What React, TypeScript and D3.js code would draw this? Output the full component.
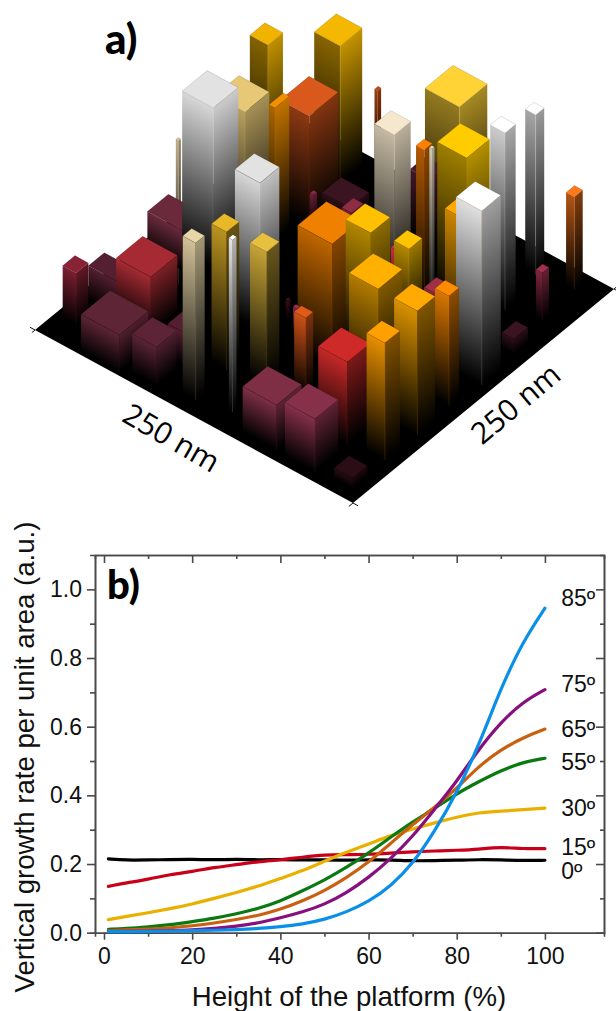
import React, { useEffect, useRef } from "react";
import * as d3 from "d3";

// ---- panel a) : bars on the 250 x 250 nm platform, listed back to front ----
// [u, v, size along u, size along v, height], all in nm
const barSizes: number[][] = [
  [223.5, 190.8, 14.2, 14.4, 140], [190.5, 219.8, 20.4, 21.1, 137], [177.5, 239.8, 2.4, 3.4, 84],
  [195.7, 135, 23.8, 23.3, 140], [180.9, 178.5, 23, 27.8, 109], [188.5, 154.9, 4.7, 13.7, 132],
  [208.2, 86.4, 2, 2.4, 144], [212.5, 98, 29.6, 20.1, 40], [201.5, 111.6, 24.4, 24, 160],
  [95.6, 218.3, 27, 26.8, 143], [112.3, 210.6, 15.7, 14.4, 65], [100.4, 161.9, 15.7, 15.7, 160],
  [83.3, 169.8, 6.5, 7.7, 150], [73.9, 165.7, 2.1, 2.4, 161], [57.5, 178.9, 23.1, 22, 152],
  [39.4, 193.6, 11.6, 10.2, 177], [45.1, 229.9, 8.2, 8.2, 160], [18.2, 234.2, 6.5, 8, 93],
  [27.1, 145.1, 19.7, 24, 138], [7.2, 132.1, 20.2, 18.2, 174], [16, 200.8, 5, 6.4, 47],
  [9.8, 166.1, 9.4, 13.4, 15], [178.9, 180.1, 2.8, 3.4, 30], [162.8, 195.5, 22, 18.2, 15],
  [152.2, 184.2, 7.9, 11.1, 27], [136.2, 103.7, 2, 2.5, 19], [86.5, 85.5, 27.2, 27.5, 126],
  [120.5, 93.1, 3.1, 2.9, 31], [84.5, 57.8, 9.2, 7, 77], [74, 107.2, 19.7, 18.5, 127],
  [79.2, 146.3, 11, 12.5, 68], [73.2, 142.9, 11.8, 12.5, 81], [47.4, 82, 23, 23, 111],
  [62.4, 157.5, 11, 11.8, 30], [8.8, 72.4, 18.3, 17, 124], [11.1, 105.5, 11, 9.6, 109],
  [217.3, 41.6, 24.9, 15.3, 34], [233.5, 19.2, 10.5, 11.8, 52], [192.4, 40.7, 27.3, 25.5, 58],
  [158.9, 32.7, 13.6, 14.4, 32], [185.9, 2.7, 30.1, 27.8, 37], [160.8, 7.9, 19.2, 19.2, 38],
  [143.7, 86, 19.7, 18.5, 147], [136.4, 45.1, 11.8, 12.1, 138], [109.4, 17.9, 2.9, 3.8, 172],
  [133.7, 12.2, 10.2, 8.6, 157], [108.8, 49.9, 13.1, 12.1, 133], [36.1, 38.5, 22.8, 22, 83],
  [9.7, 42.4, 14.4, 14.4, 117], [66.6, 8, 26.7, 23.9, 45], [35.9, 7.3, 23.6, 22.3, 53],
  [8.9, 10.2, 14.4, 14.4, 10],
];

const barColors = [
  "#f0b400", "#f5b800", "#c04a10", "#e6c877", "#d9581b", "#f29000",
  "#d8c49c", "#6a2a3c", "#e2e2e2", "#ffd335", "#4a1a2a", "#f6e8cc",
  "#ff8000", "#e8e0c8", "#ffcc00", "#ffffff", "#ffffff", "#ff7a1a",
  "#ffa800", "#ffffff", "#a03050", "#3a1420", "#8a2a48", "#3a1420",
  "#8c2c45", "#40101a", "#f08000", "#a03050", "#e05a18", "#ffc000",
  "#e03040", "#ffc400", "#ffb000", "#a03048", "#ffaa00", "#ff8c00",
  "#541f30", "#8a2236", "#a52a33", "#541f30", "#5e2536", "#5c2436",
  "#e2e2e2", "#e8b828", "#ffffff", "#e8d6a8", "#e8c040", "#cf2a2a",
  "#ff9f00", "#7e2f45", "#86304a", "#2a0d15",
];

// brightness of the left and right side of every bar, relative to its top
const leftShades = [
  0.55, 0.55, 0.8, 0.8, 0.65, 0.7, 0.9, 1, 0.95, 0.58, 0.9, 0.8,
  0.7, 0.9, 0.62, 0.8, 0.65, 0.7, 0.8, 0.88, 0.8, 0.8, 0.8, 0.8,
  0.8, 0.8, 0.8, 0.8, 0.9, 0.7, 0.9, 0.7, 0.7, 0.9, 0.85, 0.85,
  1, 0.9, 1, 1, 1, 1, 0.95, 0.8, 0.9, 0.9, 0.85, 0.95,
  0.9, 1, 1, 0.9,
];
const rightShades = [
  0.8, 0.8, 0.7, 0.72, 0.6, 0.8, 0.7, 0.8, 0.9, 0.65, 0.8, 0.75,
  0.55, 0.7, 0.7, 0.65, 0.6, 0.5, 0.6, 0.62, 0.65, 0.7, 0.7, 0.7,
  0.7, 0.7, 0.55, 0.7, 0.55, 0.55, 0.7, 0.6, 0.5, 0.7, 0.5, 0.55,
  0.8, 0.7, 0.75, 0.8, 0.85, 0.85, 0.85, 0.45, 0.7, 0.7, 0.45, 0.6,
  0.5, 0.75, 0.7, 0.7,
];

// ---- panel b) : growth rate curves ----
const heights = [1, 5, 10, 15, 20, 25, 30, 35, 40, 45, 50, 55, 60, 65, 70, 75, 80, 85, 90, 95, 100];

const rate0 = [0.215, 0.211, 0.212, 0.213, 0.214, 0.212, 0.214, 0.212, 0.213, 0.212, 0.212, 0.211, 0.212, 0.212, 0.209, 0.21, 0.211, 0.213, 0.212, 0.21, 0.211];
const rate15 = [0.135, 0.145, 0.155, 0.17, 0.178, 0.19, 0.198, 0.207, 0.212, 0.22, 0.227, 0.227, 0.228, 0.232, 0.236, 0.238, 0.24, 0.243, 0.25, 0.244, 0.245];
const rate30 = [0.038, 0.047, 0.058, 0.07, 0.083, 0.1, 0.117, 0.135, 0.158, 0.18, 0.208, 0.235, 0.258, 0.283, 0.302, 0.32, 0.337, 0.35, 0.354, 0.358, 0.363];
const rate55 = [0.01, 0.012, 0.017, 0.023, 0.032, 0.042, 0.055, 0.07, 0.092, 0.122, 0.153, 0.19, 0.232, 0.278, 0.323, 0.362, 0.405, 0.44, 0.472, 0.497, 0.508];
const rate65 = [0.006, 0.008, 0.01, 0.014, 0.02, 0.028, 0.038, 0.05, 0.068, 0.092, 0.122, 0.16, 0.205, 0.26, 0.315, 0.365, 0.42, 0.485, 0.533, 0.568, 0.593];
const rate75 = [0.004, 0.004, 0.005, 0.006, 0.008, 0.012, 0.019, 0.028, 0.043, 0.06, 0.082, 0.116, 0.16, 0.215, 0.28, 0.36, 0.44, 0.535, 0.613, 0.672, 0.708];
const rate85 = [0.003, 0.003, 0.004, 0.005, 0.006, 0.007, 0.009, 0.012, 0.017, 0.025, 0.038, 0.06, 0.09, 0.135, 0.2, 0.295, 0.407, 0.545, 0.712, 0.848, 0.945];

const curves = [rate0, rate15, rate30, rate55, rate65, rate75, rate85];
const curveColors = ["#000000", "#c8001a", "#eab000", "#0a7a10", "#c9600f", "#86107e", "#0a8fe8"];

const angleLabels = ["85º", "75º", "65º", "55º", "30º", "15º", "0º"];
// the value each angle label sits next to, in the units of the y axis
const angleLabelValues = [0.951, 0.7, 0.57, 0.473, 0.339, 0.226, 0.156];

const xMajor = [0, 20, 40, 60, 80, 100];
const xMinor = [10, 30, 50, 70, 90];
const yMajor = [0, 0.2, 0.4, 0.6, 0.8, 1.0];
const yMinor = [0.1, 0.3, 0.5, 0.7, 0.9];

const width = 616;
const height = 1011;
const sansFont = "'Liberation Sans', Arial, sans-serif";

export default function App() {
  const node = useRef<SVGSVGElement>(null);

  useEffect(() => {
    const svg = d3.select(node.current);
    svg.selectAll("*").remove();
    drawBars(svg);
    drawCurves(svg);
  }, []);

  return (
    <svg
      ref={node}
      width={width}
      height={height}
      style={{ position: "absolute", left: 0, top: 0, background: "#fff" }}
    />
  );
}

function drawBars(svg: any) {
  const origin = { x: 353, y: 503 };
  const uX = d3.scaleLinear().domain([0, 250]).range([0, -318]);
  const uY = d3.scaleLinear().domain([0, 250]).range([0, -173]);
  const vX = d3.scaleLinear().domain([0, 250]).range([0, 261]);
  const vY = d3.scaleLinear().domain([0, 250]).range([0, -214]);
  const zY = d3.scaleLinear().domain([0, 250]).range([0, -250]);

  const project = (u: number, v: number, z = 0): [number, number] => [
    origin.x + uX(u) + vX(v),
    origin.y + uY(u) + vY(v) + zY(z),
  ];
  const polygon = d3.line();
  const defs = svg.append("defs");

  // platform
  svg.append("path")
    .attr("d", polygon([project(0, 0), project(250, 0), project(250, 250), project(0, 250)]) + "Z")
    .attr("fill", "#000");

  // the little crosses where the platform edges overrun at the corners
  const overruns = [[0, 0, -4, 0], [0, 0, 0, -4], [250, 0, 254, 0], [250, 0, 250, -3], [0, 250, -3, 250], [0, 250, 0, 253]];
  svg.append("g").selectAll("line").data(overruns).join("line")
    .attr("x1", (d: number[]) => project(d[0], d[1])[0])
    .attr("y1", (d: number[]) => project(d[0], d[1])[1])
    .attr("x2", (d: number[]) => project(d[2], d[3])[0])
    .attr("y2", (d: number[]) => project(d[2], d[3])[1])
    .attr("stroke", "#111").attr("stroke-width", 1);

  // side gradients run across the top edge of a face, so bands stay parallel to it
  const addGradient = (id: string, from: [number, number], to: [number, number], bar: number[], color: string) => {
    const ex = to[0] - from[0], ey = to[1] - from[1];
    const len = Math.hypot(ex, ey) || 1;
    let nx = -ey / len, ny = ex / len;
    if (ny < 0) { nx = -nx; ny = -ny; }
    const run = bar[4] * ny;
    const g = defs.append("linearGradient").attr("id", id)
      .attr("gradientUnits", "userSpaceOnUse")
      .attr("x1", from[0]).attr("y1", from[1])
      .attr("x2", from[0] + nx * run).attr("y2", from[1] + ny * run);
    g.append("stop").attr("offset", 0).attr("stop-color", color);
    g.append("stop").attr("offset", 1).attr("stop-color", "#000");
  };

  barSizes.forEach((bar, i) => {
    const [u, v, su, sv, h] = bar;
    const top = barColors[i];
    const shade = (k: number) => d3.interpolateRgb("#000", top)(k);

    const frontTop = project(u, v, h), frontBase = project(u, v);
    const leftTop = project(u + su, v, h), leftBase = project(u + su, v);
    const rightTop = project(u, v + sv, h), rightBase = project(u, v + sv);
    const backTop = project(u + su, v + sv, h);

    addGradient(`left${i}`, frontTop, leftTop, bar, shade(leftShades[i]));
    addGradient(`right${i}`, frontTop, rightTop, bar, shade(rightShades[i]));

    const g = svg.append("g");
    g.append("path")
      .attr("d", polygon([leftTop, frontTop, frontBase, leftBase]) + "Z")
      .attr("fill", `url(#left${i})`);
    g.append("path")
      .attr("d", polygon([frontTop, rightTop, rightBase, frontBase]) + "Z")
      .attr("fill", `url(#right${i})`);
    g.append("line")
      .attr("x1", frontTop[0]).attr("y1", frontTop[1])
      .attr("x2", frontBase[0]).attr("y2", frontBase[1])
      .attr("stroke", top).attr("stroke-opacity", 0.2).attr("stroke-width", 0.8);
    g.append("path")
      .attr("d", polygon([leftTop, frontTop, rightTop, backTop]) + "Z")
      .attr("fill", top)
      .attr("stroke", "#000").attr("stroke-opacity", 0.22).attr("stroke-width", 0.6);
  });

  svg.append("text").attr("x", 105).attr("y", 54)
    .attr("font-family", "Lato, sans-serif").attr("font-weight", 900).attr("font-size", 42)
    .text("a)");

  const sizeLabel = (cx: number, cy: number, angle: number) =>
    svg.append("text")
      .attr("transform", `translate(${cx},${cy}) rotate(${angle})`)
      .attr("text-anchor", "middle").attr("dominant-baseline", "central")
      .attr("font-family", "'Open Sans', sans-serif").attr("font-size", 30)
      .text("250 nm");
  sizeLabel(172, 437, 30);
  sizeLabel(515, 403, -40);
}

function drawCurves(svg: any) {
  const margin = { top: 555, right: 12, bottom: 78.3, left: 95 };

  const x = d3.scaleLinear().domain([-2.04, 113.4]).range([margin.left, width - margin.right]);
  const y = d3.scaleLinear().domain([0, 1.1]).range([height - margin.bottom, margin.top]);

  const styleAxis = (g: any) => {
    g.selectAll(".domain,line").attr("stroke", "#4a4a4a").attr("stroke-width", 1.6);
    g.selectAll("text")
      .attr("font-family", sansFont).attr("font-size", 23).attr("fill", "#111");
  };

  const bottom = svg.append("g").attr("transform", `translate(0,${y(0)})`);
  bottom.append("g").call(d3.axisBottom(x).tickValues(xMinor).tickSize(4).tickFormat(() => "")).call(styleAxis);
  bottom.append("g").call(d3.axisBottom(x).tickValues(xMajor).tickSize(7).tickPadding(8).tickSizeOuter(0)).call(styleAxis);

  const left = svg.append("g").attr("transform", `translate(${margin.left},0)`);
  left.append("g").call(d3.axisLeft(y).tickValues(yMinor).tickSize(5).tickFormat(() => "")).call(styleAxis);
  left.append("g").call(d3.axisLeft(y).tickValues(yMajor).tickSize(8).tickPadding(5).tickSizeOuter(0).tickFormat(d3.format(".1f"))).call(styleAxis);

  const topAxis = svg.append("g").attr("transform", `translate(0,${margin.top})`);
  topAxis.append("g").call(d3.axisTop(x).tickValues(xMinor).tickSize(-4).tickFormat(() => "")).call(styleAxis);
  topAxis.append("g").call(d3.axisTop(x).tickValues(xMajor).tickSize(-8).tickSizeOuter(0).tickFormat(() => "")).call(styleAxis);

  const right = svg.append("g").attr("transform", `translate(${width - margin.right},0)`);
  right.append("g").call(d3.axisRight(y).tickValues(yMinor).tickSize(-4).tickFormat(() => "")).call(styleAxis);
  right.append("g").call(d3.axisRight(y).tickValues(yMajor).tickSize(-8).tickSizeOuter(0).tickFormat(() => "")).call(styleAxis);

  const line = d3.line<number>()
    .x((_, i) => x(heights[i]))
    .y(d => y(d))
    .curve(d3.curveBasis);

  svg.append("g").attr("fill", "none").attr("stroke-width", 3.2).attr("stroke-linecap", "round")
    .selectAll("path").data(curves).join("path")
    .attr("d", (d: number[]) => line(d))
    .attr("stroke", (_: number[], i: number) => curveColors[i]);

  svg.append("g").selectAll("text").data(angleLabels).join("text")
    .attr("x", x(103.7))
    .attr("y", (_: string, i: number) => y(angleLabelValues[i]))
    .attr("font-family", sansFont).attr("font-size", 23).attr("fill", "#111")
    .text((d: string) => d);

  svg.append("text").attr("x", 107).attr("y", 599)
    .attr("font-family", "Lato, sans-serif").attr("font-weight", 900).attr("font-size", 40)
    .text("b)");

  svg.append("text").attr("x", 349).attr("y", 1006).attr("text-anchor", "middle")
    .attr("font-family", sansFont).attr("font-size", 27.6).attr("fill", "#111")
    .text("Height of the platform (%)");

  svg.append("text").attr("transform", "translate(34,757) rotate(-90)").attr("text-anchor", "middle")
    .attr("font-family", sansFont).attr("font-size", 27.6).attr("fill", "#111")
    .text("Vertical growth rate per unit area (a.u.)");
}
